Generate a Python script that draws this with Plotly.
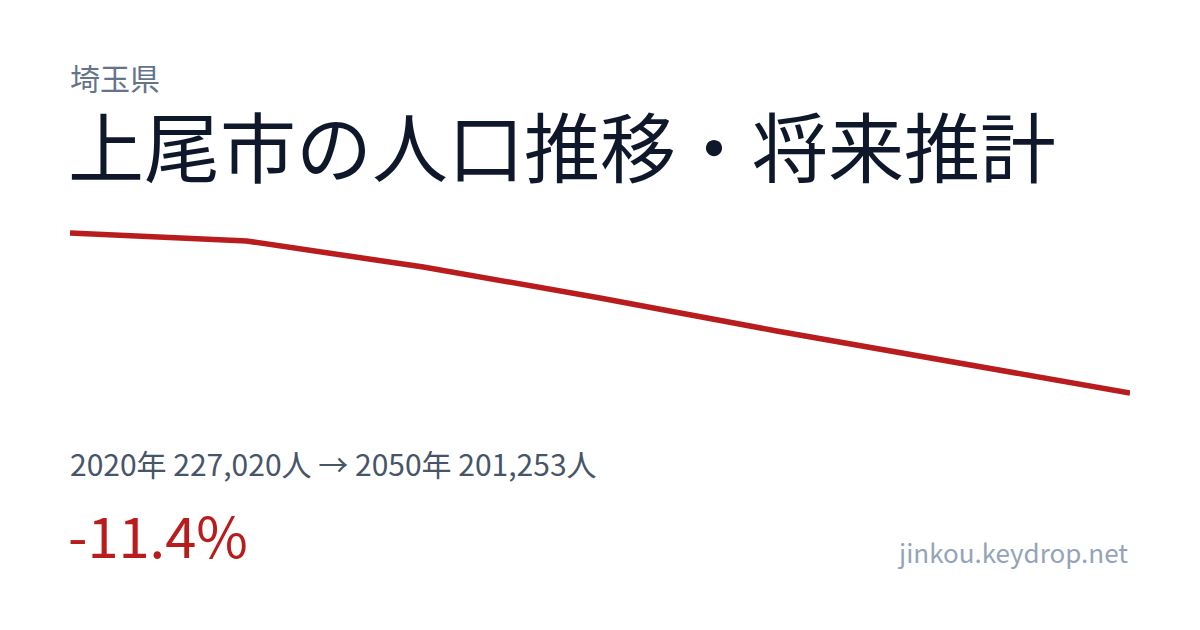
import plotly.graph_objects as go

# 上尾市 population (2020 actual, 2025-2050 projection)
years = [2020, 2025, 2030, 2035, 2040, 2045, 2050]
population = [227020, 225730, 221550, 216560, 211240, 206250, 201253]

prefecture = "埼玉県"
title_text = "上尾市の人口推移・将来推計"
summary_text = "2020年 227,020人 → 2050年 201,253人"
change_text = "-11.4%"
site_text = "jinkou.keydrop.net"

W, H = 1200, 630
OFF = 8  # page body margin in the viewer
ML, MR, MT, MB = 70 - OFF, 70 + OFF, 223 - OFF, 227 + OFF
PW, PH = W - ML - MR, H - MT - MB

FONT = "Noto Sans CJK JP, Noto Sans, sans-serif"
RED = "#b91c1c"


def px(x, y):
    # target pixel position (in the screenshot) -> paper coords
    x, y = x - OFF, y - OFF
    return (x - ML) / PW, (H - MB - y) / PH


fig = go.Figure()
fig.add_trace(go.Scatter(
    x=years, y=population, mode="lines",
    line={"color": RED, "width": 5.5},
    hoverinfo="skip", showlegend=False,
))

pad = (max(population) - min(population)) / 160 * 10
fig.update_xaxes(range=[years[0], years[-1]], visible=False, fixedrange=True)
fig.update_yaxes(range=[min(population) - pad, max(population) + pad],
                 visible=False, fixedrange=True)


def label(text, x, y, size, color, xanchor="left"):
    xp, yp = px(x, y)
    fig.add_annotation(
        x=xp, y=yp, xref="paper", yref="paper", text=text, showarrow=False,
        xanchor=xanchor, yanchor="middle",
        font={"family": FONT, "size": size, "color": color},
    )


label(prefecture, 68, 77, 30, "#64748b")
label(title_text, 66, 144, 76, "#0f172a")
label(summary_text, 68, 463, 30, "#475569")
label(change_text, 66, 533, 56, RED)
label(site_text, 1130, 551, 26, "#94a3b8", xanchor="right")

fig.update_layout(
    width=W, height=H,
    margin={"l": ML, "r": MR, "t": MT, "b": MB},
    paper_bgcolor="white", plot_bgcolor="white",
    showlegend=False,
)

fig.write_html("out.html", config={"displayModeBar": False})
